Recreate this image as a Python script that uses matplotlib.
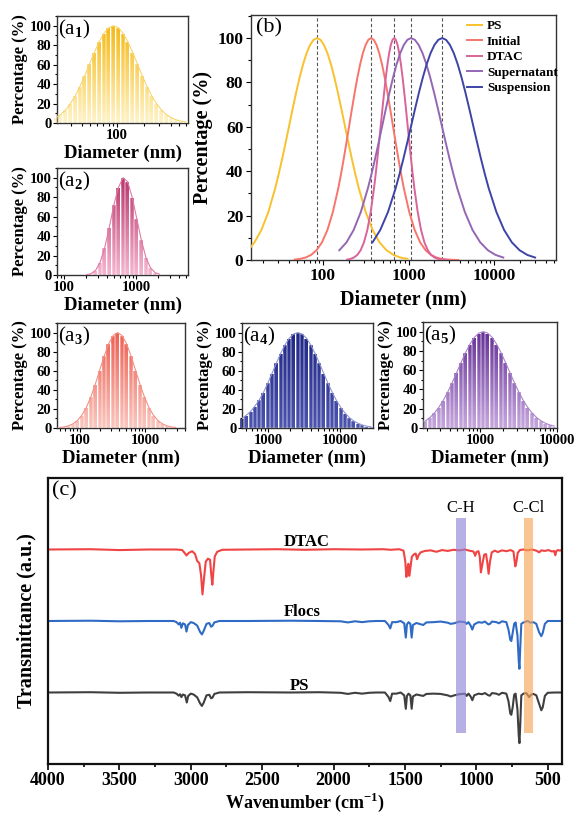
import numpy as np
import matplotlib
matplotlib.use('Agg')
from matplotlib import pyplot as plt
from matplotlib.colors import LinearSegmentedColormap
from matplotlib.ticker import FixedLocator, LogLocator, NullFormatter, MultipleLocator

plt.rcParams['font.family'] = ['Liberation Serif', 'DejaVu Serif']
plt.rcParams['font.weight'] = 'bold'
plt.rcParams['axes.labelweight'] = 'bold'
plt.rcParams['mathtext.fontset'] = 'custom'
plt.rcParams['mathtext.rm'] = 'Liberation Serif'
plt.rcParams['mathtext.bf'] = 'Liberation Serif:bold'

###################
# SIZE DISTRIBUTIONS
###################

# (a1) PS
a1_d = [20.5, 23.2, 26.3, 29.7, 33.7, 38.1, 43.2, 48.9, 55.4, 62.7, 71.0, 80.4, 91.0, 103.0,
        116.7, 132.2, 149.7, 169.5, 191.9, 217.3, 246.1, 278.7, 315.6, 357.4, 404.7, 458.3,
        519.0, 587.7]
a1_p = [5.6, 8.9, 13.5, 19.8, 27.8, 37.5, 48.7, 60.7, 72.6, 83.5, 92.3, 98.0, 100, 98.0,
        92.3, 83.5, 72.6, 60.7, 48.7, 37.5, 27.8, 19.8, 13.5, 8.9, 5.6, 3.4, 2.0, 1.1]

# (a2) DTAC
a2_d = [205.0, 237.4, 274.8, 318.2, 368.4, 426.5, 493.8, 571.8, 662.0, 766.5, 887.4, 1027.5,
        1189.6, 1377.4, 1594.7, 1846.4, 2137.7]
a2_p = [0.3, 1.3, 4.7, 13, 28, 49, 72, 90, 100, 96, 80, 58, 36, 18, 7.5, 2.5, 0.7]

# (a3) Initial
a3_d = [49.2, 57.6, 67.4, 78.8, 92.1, 107.7, 126.0, 147.3, 172.3, 201.5, 235.7, 275.6, 322.4,
        377.0, 440.9, 515.6, 603.0, 705.3, 824.8, 964.6, 1128.1, 1319.3, 1542.9, 1804.4,
        2110.3, 2468.0, 2886.3]
a3_p = [0.5, 1.1, 2.3, 4.4, 7.9, 13.5, 21.6, 32.5, 45.8, 60.7, 75.5, 88.2, 96.9, 100, 96.9,
        88.2, 75.5, 60.7, 45.8, 32.5, 21.6, 13.5, 7.9, 4.4, 2.3, 1.1, 0.5]

# (a4) Suspension
a4_d = [438.2, 502.5, 576.3, 660.9, 757.9, 869.1, 996.7, 1143.0, 1310.8, 1503.2, 1723.9,
        1977.0, 2267.2, 2600, 2981.7, 3419.3, 3921.3, 4496.9, 5157.1, 5914.1, 6782.3, 7777.9,
        8919.6, 10229, 11731, 13453, 15428, 17692, 20289, 23268, 26683]
a4_p = [10.0, 13.5, 17.5, 23.0, 29.5, 37.5, 47.2, 57.6, 68.2, 78.3, 87.1, 94.1, 98.5, 100,
        98.5, 94.1, 87.1, 78.3, 68.2, 57.6, 47.2, 37.5, 28.9, 21.6, 15.7, 11.0, 7.5, 5.0,
        3.2, 2.0, 1.2]

# (a5) Supernatant
a5_d = [192.9, 220.4, 251.8, 287.6, 328.6, 375.5, 429.0, 490.1, 560.0, 639.7, 730.9, 835.1,
        954.0, 1090, 1245.3, 1422.8, 1625.5, 1857.2, 2121.8, 2424.2, 2769.6, 3164.3, 3615.2,
        4130.4, 4719.0, 5391.4, 6159.7, 7037.5, 8040.4, 9186.2]
a5_p = [7.5, 11.0, 15.7, 21.6, 28.9, 37.5, 47.2, 57.6, 68.2, 78.3, 87.1, 94.1, 98.5, 100,
        98.5, 94.1, 87.1, 78.3, 68.2, 57.6, 47.2, 37.5, 28.9, 21.6, 15.7, 11.0, 7.5, 5.0,
        3.2, 2.0]

# (b) fitted curves
ps_d = [14.4, 15.8, 19.05, 23.0, 27.7, 30.4, 33.4, 36.7, 40.3, 44.2, 48.6, 53.3, 58.6, 64.3,
        70.6, 77.5, 85.1, 93.5, 102.6, 112.7, 123.8, 135.9, 149.3, 163.8, 179.9, 197.6, 216.9,
        238.2, 261.6, 315.4, 380.2, 458.4, 553.0, 666.8, 803.5, 968.3]
ps_p = [5.96, 7.95, 13.53, 21.65, 32.47, 38.86, 45.78, 53.11, 60.65, 68.19, 75.48, 82.26,
        88.25, 93.21, 96.92, 99.22, 100, 99.22, 96.92, 93.21, 88.25, 82.26, 75.48, 68.19,
        60.65, 53.11, 45.78, 38.86, 32.47, 21.65, 13.53, 7.95, 4.39, 2.28, 1.11, 0.51]
ini_d = [46.7, 54.1, 62.7, 72.6, 84.0, 97.3, 112.7, 130.5, 151.2, 162.7, 175.1, 188.4, 202.8,
         218.3, 234.9, 252.7, 272.0, 292.7, 315.0, 338.9, 364.8, 392.6, 422.6, 454.6, 489.3,
         526.6, 566.8, 609.7, 656.1, 706.3, 760.1, 817.7, 880.0, 1019.3, 1180.3, 1367.3,
         1583.2, 1833.7, 2123.2, 2459.2, 2848.1, 3298.9, 3819.4]
ini_p = [0.22, 0.51, 1.11, 2.28, 4.39, 7.95, 13.53, 21.65, 32.47, 38.86, 45.78, 53.11, 60.65,
         68.19, 75.48, 82.26, 88.25, 93.21, 96.92, 99.22, 100, 99.22, 96.92, 93.21, 88.25,
         82.26, 75.48, 68.19, 60.65, 53.11, 45.78, 38.86, 32.47, 21.65, 13.53, 7.95, 4.39,
         2.28, 1.11, 0.51, 0.22, 0.09, 0.03]
dtac_d = [191.9, 210.1, 229.9, 251.6, 275.4, 301.4, 329.9, 361.2, 395.4, 413.6, 432.7, 452.8,
          473.6, 495.6, 518.5, 542.5, 567.5, 593.8, 621.2, 650.0, 680.0, 711.3, 744.3, 778.7,
          814.7, 852.3, 891.8, 933.0, 976.1, 1021.2, 1068.4, 1117.9, 1169.5, 1280.1, 1401.2,
          1533.7, 1678.8, 1837.6, 2011.4, 2201.6, 2409.9, 2637.9, 2887.4]
dtac_p = [0.22, 0.51, 1.11, 2.28, 4.39, 7.95, 13.53, 21.65, 32.47, 38.86, 45.78, 53.11, 60.65,
          68.19, 75.48, 82.26, 88.25, 93.21, 96.92, 99.22, 100, 99.22, 96.92, 93.21, 88.25,
          82.26, 75.48, 68.19, 60.65, 53.11, 45.78, 38.86, 32.47, 21.65, 13.53, 7.95, 4.39,
          2.28, 1.11, 0.51, 0.22, 0.09, 0.03]
sup_d = [155.2, 188.3, 228.4, 277.0, 335.9, 369.8, 407.3, 448.5, 493.9, 543.9, 599.1, 659.5,
         726.3, 799.8, 881.0, 969.8, 1068.1, 1184.9, 1314, 1457.6, 1616.5, 1793.2, 1988.6,
         2206.0, 2446.3, 2713.8, 3009.4, 3338.5, 3702.1, 4554.3, 5602.6, 6892.3, 8478.6,
         10430, 12830]
sup_p = [4.39, 7.95, 13.53, 21.65, 32.47, 38.86, 45.78, 53.11, 60.65, 68.19, 75.48, 82.26,
         88.25, 93.21, 96.92, 99.22, 100, 99.22, 96.92, 93.21, 88.25, 82.26, 75.48, 68.19,
         60.65, 53.11, 45.78, 38.86, 32.47, 21.65, 13.53, 7.95, 4.39, 2.28, 1.11]
susp_d = [379.5, 467.3, 575.6, 708.9, 786.7, 873.2, 969.2, 1075.5, 1193.7, 1324.6, 1470.4,
          1631.5, 1810.9, 2009.4, 2230.6, 2475, 2747.0, 3048.3, 3383.4, 3754.6, 4167.4, 4624.5,
          5133.1, 5696.0, 6322.5, 7015.7, 7787.5, 8641.2, 10643, 13109, 16146, 19887, 24494,
          30170]
susp_p = [7.95, 13.53, 21.65, 32.47, 38.86, 45.78, 53.11, 60.65, 68.19, 75.48, 82.26, 88.25,
          93.21, 96.92, 99.22, 100, 99.22, 96.92, 93.21, 88.25, 82.26, 75.48, 68.19, 60.65,
          53.11, 45.78, 38.86, 32.47, 21.65, 13.53, 7.95, 4.39, 2.28, 1.11]
peaks = [85, 365, 680, 1068, 2475]
b_names = ['PS', 'Initial', 'DTAC', 'Supernatant', 'Suspension']

###################
# FTIR
###################
ir_dtac = [(4000, 75.0), (3700, 75.1), (3500, 74.8), (3300, 75.0), (3100, 75.0), (3060, 74.8),
           (3040, 73.6), (3030, 72.9), (3015, 73.8), (2990, 74.4), (2970, 73.4), (2955, 71.0),
           (2940, 70.2), (2928, 66.0), (2918, 59.3), (2908, 64.5), (2895, 70.8), (2880, 71.8),
           (2865, 71.4), (2856, 66.0), (2849, 62.7), (2842, 67.0), (2832, 72.6), (2815, 74.2),
           (2780, 74.9), (2600, 75.0), (2400, 75.1), (2200, 74.9), (2000, 75.1), (1800, 75.0),
           (1650, 75.1), (1600, 74.9), (1540, 75.1), (1510, 74.6), (1498, 71.0), (1490, 65.4),
           (1482, 68.5), (1476, 70.0), (1470, 65.8), (1463, 68.0), (1452, 72.4), (1440, 73.2),
           (1425, 73.6), (1415, 71.6), (1405, 73.0), (1390, 74.0), (1360, 74.5), (1320, 74.7),
           (1280, 74.2), (1240, 74.8), (1200, 74.5), (1160, 74.9), (1120, 74.7), (1080, 75.0),
           (1050, 74.6), (1020, 74.3), (1008, 72.8), (998, 74.2), (985, 74.4), (976, 72.5),
           (968, 67.0), (958, 69.8), (945, 73.2), (932, 73.4), (922, 70.0), (914, 66.5),
           (905, 70.6), (892, 74.0), (870, 74.6), (850, 74.1), (820, 74.7), (790, 74.4),
           (760, 74.8), (740, 74.3), (733, 71.5), (727, 69.1), (720, 70.5), (710, 73.8),
           (695, 74.8), (670, 75.0), (640, 74.7), (610, 75.0), (580, 74.6), (560, 74.0),
           (545, 74.7), (520, 74.5), (495, 74.8), (470, 74.3), (455, 74.5), (447, 73.0),
           (440, 74.4), (430, 74.8), (415, 74.6), (400, 74.9)]
ir_flocs = [(4000, 50.0), (3700, 50.1), (3500, 49.9), (3300, 50.0), (3120, 50.0), (3100, 49.6),
            (3085, 48.8), (3075, 49.4), (3066, 47.6), (3055, 49.2), (3040, 48.8), (3030, 46.3),
            (3020, 48.6), (3000, 49.6), (2980, 49.3), (2955, 48.4), (2935, 46.2), (2922, 45.3),
            (2910, 46.5), (2890, 49.0), (2870, 49.3), (2858, 48.0), (2848, 48.3), (2835, 49.5),
            (2800, 50.0), (2600, 50.0), (2300, 50.1), (2100, 50.0), (1950, 49.9), (1900, 49.5),
            (1850, 49.9), (1800, 49.6), (1750, 49.9), (1700, 50.0), (1640, 50.0), (1615, 48.6),
            (1603, 47.4), (1590, 49.6), (1560, 49.6), (1530, 50.0), (1505, 49.2), (1494, 44.2),
            (1486, 48.8), (1475, 49.6), (1462, 49.0), (1453, 44.2), (1444, 48.6), (1420, 49.3),
            (1372, 48.6), (1350, 49.5), (1300, 49.6), (1250, 49.8), (1200, 49.4), (1180, 49.0),
            (1155, 49.2), (1120, 49.8), (1080, 49.6), (1068, 49.0), (1055, 49.6), (1040, 48.4),
            (1028, 47.0), (1015, 48.8), (985, 49.6), (960, 49.4), (940, 49.8), (915, 48.8),
            (905, 49.0), (890, 49.8), (860, 49.6), (842, 49.2), (820, 49.9), (790, 49.6),
            (775, 47.0), (762, 43.4), (755, 43.0), (745, 46.0), (735, 49.0), (725, 49.5),
            (712, 45.0), (703, 36.0), (698, 33.3), (693, 40.0), (685, 49.0), (670, 49.5),
            (640, 50.0), (620, 49.4), (600, 49.6), (580, 49.0), (560, 46.0), (545, 44.7),
            (535, 45.8), (520, 49.0), (500, 50.0), (450, 50.0), (400, 50.0)]
ir_ps = [(4000, 25.0), (3700, 25.1), (3500, 24.9), (3300, 25.0), (3120, 25.0), (3100, 24.6),
         (3085, 23.9), (3075, 24.4), (3066, 23.4), (3055, 24.3), (3040, 24.0), (3028, 21.5),
         (3018, 23.8), (3000, 24.6), (2980, 24.3), (2955, 23.3), (2935, 21.2), (2922, 20.3),
         (2910, 21.4), (2890, 24.0), (2870, 24.2), (2858, 23.0), (2848, 23.2), (2835, 24.5),
         (2800, 25.0), (2600, 25.1), (2300, 25.0), (2100, 25.1), (1950, 24.9), (1900, 24.5),
         (1850, 24.9), (1800, 24.6), (1750, 24.9), (1700, 25.0), (1640, 25.0), (1615, 23.4),
         (1603, 22.0), (1590, 24.6), (1560, 24.6), (1530, 25.0), (1505, 24.0), (1494, 19.3),
         (1486, 23.8), (1475, 24.6), (1462, 24.0), (1453, 19.3), (1444, 23.6), (1420, 24.3),
         (1372, 23.8), (1350, 24.5), (1300, 24.6), (1250, 24.5), (1200, 24.0), (1180, 23.6),
         (1155, 24.0), (1120, 24.4), (1080, 24.6), (1068, 23.8), (1055, 24.6), (1040, 23.6),
         (1028, 22.3), (1015, 24.0), (985, 24.6), (960, 24.4), (940, 24.8), (915, 24.0),
         (905, 23.9), (890, 24.8), (860, 24.6), (842, 24.2), (820, 24.9), (790, 24.6),
         (775, 22.0), (762, 17.6), (755, 17.2), (745, 20.0), (735, 24.2), (725, 24.6),
         (712, 19.0), (703, 10.0), (698, 7.3), (693, 13.0), (685, 24.0), (670, 24.6),
         (650, 24.8), (630, 23.4), (615, 24.3), (600, 24.5), (580, 24.0), (560, 21.0),
         (545, 18.8), (535, 19.8), (520, 23.8), (500, 24.9), (450, 25.0), (400, 25.0)]
ir_names = ['DTAC', 'Flocs', 'PS']
bands = [(1075, 1145), (600, 665)]
band_names = ['C-H', 'C-Cl']

W, H = 578, 814
fig = plt.figure(figsize=(W / 100, H / 100), dpi=100)


def rect(l, t, r, b):
    return [l / W, 1 - b / H, (r - l) / W, (b - t) / H]


def style_axes(ax, lw=1.0, col='#333333'):
    for s in ax.spines.values():
        s.set_linewidth(lw)
        s.set_color(col)
    for lab in ax.get_xticklabels() + ax.get_yticklabels():
        lab.set_fontweight('bold')


def dist_panel(r, d, p, top, bottom, edge, xlim, xticks, tag):
    ax = fig.add_axes(r)
    ax.set_xscale('log')
    c = np.asarray(d, float)
    mids = np.sqrt(c[:-1] * c[1:])
    edges = np.concatenate([[c[0] ** 2 / mids[0]], mids, [c[-1] ** 2 / mids[-1]]])
    bars = ax.bar(edges[:-1], p, width=np.diff(edges), align='edge', facecolor='none',
                  edgecolor=(1, 1, 1, 0.85), linewidth=0.3, zorder=3)
    cmap = LinearSegmentedColormap.from_list('g', [bottom, top])
    grad = np.linspace(0, 1, 200).reshape(-1, 1)
    for b in bars:
        im = ax.imshow(grad, extent=[b.get_x(), b.get_x() + b.get_width(), 0, 100],
                       origin='lower', cmap=cmap, aspect='auto', zorder=2)
        im.set_clip_path(b)
    ax.plot(c, p, color=edge, lw=0.8, zorder=4)
    ax.set_xlim(xlim)
    ax.set_ylim(0, 110)
    ax.xaxis.set_major_locator(FixedLocator(xticks))
    ax.set_xticklabels([str(t) for t in xticks])
    ax.xaxis.set_minor_locator(LogLocator(subs=np.arange(2, 10)))
    ax.xaxis.set_minor_formatter(NullFormatter())
    ax.set_yticks([0, 20, 40, 60, 80, 100])
    ax.yaxis.set_minor_locator(MultipleLocator(10))
    ax.tick_params(which='both', direction='out', labelsize=10.5, pad=1, width=0.8)
    ax.tick_params(which='major', length=3)
    ax.tick_params(which='minor', length=1.8)
    ax.set_xlabel('Diameter (nm)', fontsize=13.5, labelpad=2)
    ax.set_ylabel('Percentage (%)', fontsize=12, labelpad=1)
    ax.text(0.01, 0.98, tag, transform=ax.transAxes, ha='left', va='top',
            fontsize=15, fontweight='normal', zorder=6)
    style_axes(ax)
    return ax


dist_panel(rect(57, 16, 188, 123), a1_d, a1_p, '#F5B915', '#FFF3C6', '#F8D66E',
           (21, 630), [100], '(a$_1$)')
dist_panel(rect(57, 168, 188, 275), a2_d, a2_p, '#B8366C', '#F5B6CF', '#E07AA6',
           (80, 5300), [100, 1000], '(a$_2$)')
dist_panel(rect(57, 323, 185, 428), a3_d, a3_p, '#EC5F52', '#FAC6BE', '#F59086',
           (45, 4000), [100, 1000], '(a$_3$)')
dist_panel(rect(242, 323, 373, 428), a4_d, a4_p, '#1F2685', '#4C54AE', '#9096D2',
           (436, 28700), [1000, 10000], '(a$_4$)')
dist_panel(rect(423, 322, 557, 428), a5_d, a5_p, '#652F97', '#C6A6DE', '#A984C9',
           (178, 10000), [1000, 10000], '(a$_5$)')

# (b)
axb = fig.add_axes(rect(251, 15, 556, 260))
axb.set_xscale('log')
b_series = [(ps_d, ps_p, '#F8C12D'), (ini_d, ini_p, '#F7756B'), (dtac_d, dtac_p, '#D9639A'),
            (sup_d, sup_p, '#9467B5'), (susp_d, susp_p, '#3E44A6')]
for (d, p, col), name in zip(b_series, b_names):
    axb.plot(d, p, color=col, lw=1.4, label=name, zorder=3)
for v in peaks:
    axb.axvline(v, color='#555555', ls=(0, (3, 2)), lw=0.8, zorder=1)
axb.set_xlim(14.4, 53000)
axb.set_ylim(0, 110.4)
axb.xaxis.set_major_locator(FixedLocator([100, 1000, 10000]))
axb.set_xticklabels(['100', '1000', '10000'])
axb.xaxis.set_minor_locator(LogLocator(subs=np.arange(2, 10)))
axb.xaxis.set_minor_formatter(NullFormatter())
axb.set_yticks([0, 20, 40, 60, 80, 100])
axb.yaxis.set_minor_locator(MultipleLocator(10))
axb.tick_params(which='both', direction='out', labelsize=12.5, pad=2, width=0.8)
axb.tick_params(which='major', length=3.5)
axb.tick_params(which='minor', length=2)
axb.set_xlabel('Diameter (nm)', fontsize=14.5, labelpad=4)
axb.set_ylabel('Percentage (%)', fontsize=14.5, labelpad=3)
axb.text(0.015, 0.985, '(b)', transform=axb.transAxes, ha='left', va='top',
         fontsize=16, fontweight='normal')
axb.legend(loc='upper left', bbox_to_anchor=(0.70, 0.99), frameon=False, fontsize=9.5,
           handlelength=1.1, handletextpad=0.4, labelspacing=0.25, borderaxespad=0,
           borderpad=0.2)
style_axes(axb)

# (c)
axc = fig.add_axes(rect(48, 478, 562, 764))
ir_cols = ['#F04444', '#2F6BC4', '#3F3F3F']
ir_text = [(2186, 77.7), (2220, 53.0), (2240, 27.2)]
for data, col, name, (tx, ty) in zip([ir_dtac, ir_flocs, ir_ps], ir_cols, ir_names, ir_text):
    wn, t = np.array(data).T
    axc.plot(wn, t, color=col, lw=1.5, zorder=2)
    axc.text(tx, ty, name, ha='center', va='center', fontsize=12)
for (lo, hi), col, name in zip(bands, ['#8F86D6', '#F7A65A'], band_names):
    axc.axvspan(lo, hi, ymin=0.11, ymax=0.86, color=col, alpha=0.65, lw=0, zorder=3)
    axc.text((lo + hi) / 2, 89.5, name, ha='center', va='center', fontsize=12,
             fontweight='normal')
axc.set_xlim(4000, 400)
axc.set_ylim(0, 100)
axc.set_yticks([])
axc.xaxis.set_major_locator(MultipleLocator(500))
axc.xaxis.set_minor_locator(MultipleLocator(250))
axc.tick_params(which='both', direction='out', labelsize=13, pad=2, width=1.2)
axc.tick_params(which='major', length=4)
axc.tick_params(which='minor', length=2.5)
axc.set_xlabel(r'Wavenumber (cm$^{\mathbf{-1}}$)', fontsize=13, labelpad=1)
axc.set_ylabel('Transmittance (a.u.)', fontsize=14.5, labelpad=8)
axc.text(0.008, 0.99, '(c)', transform=axc.transAxes, ha='left', va='top',
         fontsize=16, fontweight='normal')
style_axes(axc, lw=1.6, col='#111111')

plt.savefig('out.png', dpi=100)
